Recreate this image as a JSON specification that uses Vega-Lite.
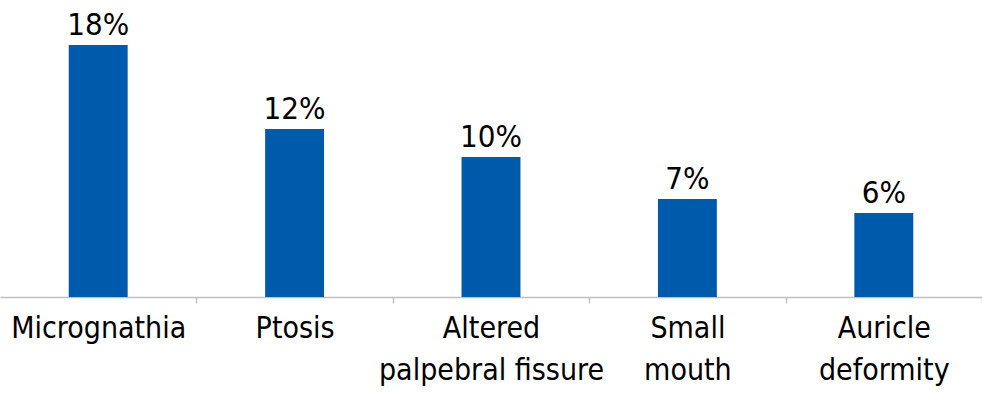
{
  "$schema": "https://vega.github.io/schema/vega-lite/v6.json",
  "width": 982,
  "height": 297,
  "autosize": {"type": "none"},
  "padding": {"top": 0, "left": 0, "right": 0, "bottom": 96},
  "background": "white",
  "config": {"view": {"stroke": null}, "font": "DejaVu Sans Condensed"},
  "data": {
    "values": [
      {"category": "Micrognathia", "value": 18, "label": "18%"},
      {"category": "Ptosis", "value": 12, "label": "12%"},
      {"category": "Altered|palpebral fissure", "value": 10, "label": "10%"},
      {"category": "Small|mouth", "value": 7, "label": "7%"},
      {"category": "Auricle|deformity", "value": 6, "label": "6%"}
    ]
  },
  "encoding": {
    "x": {
      "field": "category",
      "type": "nominal",
      "sort": null,
      "scale": {"paddingInner": 0.7, "paddingOuter": 0.35},
      "axis": {
        "title": null,
        "labelAngle": 0,
        "labelExpr": "split(datum.label, '|')",
        "labelFont": "DejaVu Sans Condensed",
        "labelFontSize": 30,
        "labelColor": "#000000",
        "labelLineHeight": 42,
        "labelPadding": 10,
        "labelBaseline": "top",
        "tickOffset": 98.2,
        "labelOffset": -98.2,
        "tickSize": 6,
        "tickColor": "#c0c0c0",
        "domainColor": "#c0c0c0",
        "domainWidth": 1.5,
        "tickWidth": 1.5,
        "labelLimit": 400
      }
    },
    "y": {
      "field": "value",
      "type": "quantitative",
      "scale": {"domain": [0, 21.214], "nice": false, "zero": true},
      "axis": null
    }
  },
  "layer": [
    {"mark": {"type": "bar", "color": "#005aab"}},
    {
      "mark": {
        "type": "text",
        "baseline": "alphabetic",
        "dy": -10,
        "font": "DejaVu Sans Condensed",
        "fontSize": 31,
        "color": "#000000"
      },
      "encoding": {"text": {"field": "label"}}
    }
  ]
}
